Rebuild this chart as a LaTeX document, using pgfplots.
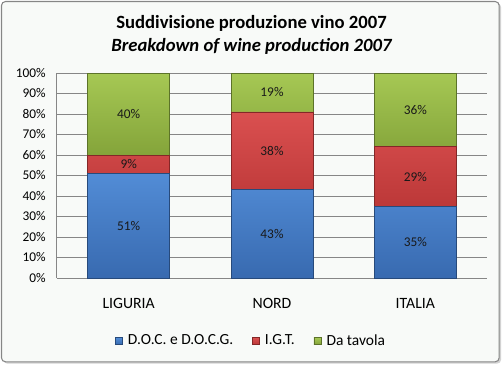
\documentclass[border=0pt]{standalone}
\usepackage{pgfplots}
\pgfplotsset{compat=1.18}
\usepackage{pgfplotstable}
\usepackage{fontspec}
\setmainfont{Carlito}
\definecolor{bluet}{RGB}{82,140,214}
\definecolor{blueb}{RGB}{56,106,176}
\definecolor{redt}{RGB}{218,80,80}
\definecolor{redb}{RGB}{188,56,56}
\definecolor{greent}{RGB}{166,200,84}
\definecolor{greenb}{RGB}{132,164,58}
\definecolor{cgrid}{HTML}{868686}
\definecolor{cbg}{HTML}{F8FAF8}
\pgfplotstableread{
x doc igt tav
0 51 9 40
1 43 38 19
2 35 29 36
}\data
\pgfplotstablecreatecol[expr={\thisrow{doc}/2}]{mdoc}\data
\pgfplotstablecreatecol[expr={\thisrow{doc}+\thisrow{igt}/2}]{migt}\data
\pgfplotstablecreatecol[expr={\thisrow{doc}+\thisrow{igt}+\thisrow{tav}/2}]{mtav}\data
\pgfplotsset{myaxis/.style={
  scale only axis, width=322.5pt, height=153.75pt,
  at={(42.75pt,65.25pt)}, anchor=south west,
  xmin=-0.5, xmax=2.5, ymin=0, ymax=100,
  /pgf/number format/assume math mode=true,
}}
\begin{document}
\begin{tikzpicture}
\path[use as bounding box] (0,0) rectangle (377.25pt,273.75pt);
\fill[gray!35, rounded corners=3pt] (2.5pt,1pt) rectangle (375.8pt,271.4pt);
\draw[cgrid, fill=cbg, line width=0.8pt, rounded corners=3pt] (1.1pt,2.4pt) rectangle (374.4pt,272.6pt);
\node[anchor=base, font=\fontsize{14}{16}\selectfont\bfseries, inner sep=0pt] at (188.6pt,252pt) {Suddivisione produzione vino 2007};
\node[anchor=base, font=\fontsize{14}{16}\selectfont\bfseries\itshape, inner sep=0pt] at (188.6pt,234.75pt) {Breakdown of wine production 2007};
\begin{axis}[myaxis,
  ybar stacked, bar width=61.5pt,
  axis lines*=left,
  axis line style={cgrid, line width=0.75pt},
  ymajorgrids, grid style={cgrid, line width=0.75pt},
  major tick length=0pt,
  xtick={0,1,2}, xticklabels={LIGURIA,NORD,ITALIA},
  ytick={0,10,...,100},
  yticklabel={\pgfmathprintnumber{\tick}\%},
  ticklabel style={text=black},
  yticklabel style={font=\fontsize{10}{12}\selectfont, anchor=east, inner sep=0pt, xshift=-8.25pt},
  xticklabel style={font=\fontsize{11.8}{13}\selectfont, anchor=base, yshift=-22.7pt},
  legend style={at={(0.452,-0.307)}, anchor=center, draw=none, fill=none,
    legend columns=3, font=\fontsize{11.6}{13}\selectfont,
    /tikz/every even column/.append style={column sep=12pt},
    /tikz/every odd column/.append style={column sep=2pt}},
  legend image code/.code={\draw[#1, line width=0.4pt] (0pt,-2.6pt) rectangle (5.3pt,2.6pt);},
]
\addplot[top color=bluet, bottom color=blueb, draw=blueb!70!black, line width=0.6pt] table[x=x,y=doc]{\data};
\addplot[top color=redt, bottom color=redb, draw=redb!70!black, line width=0.6pt] table[x=x,y=igt]{\data};
\addplot[top color=greent, bottom color=greenb, draw=greenb!70!black, line width=0.6pt] table[x=x,y=tav]{\data};
\legend{D.O.C. e D.O.C.G., I.G.T., Da tavola}
\end{axis}
\begin{axis}[myaxis, hide axis]
\pgfplotsinvokeforeach{doc,igt,tav}{
\addplot[draw=none, mark=none, nodes near coords={\pgfmathprintnumber{\pgfplotspointmeta}\%},
  point meta=explicit,
  nodes near coords style={anchor=center, font=\fontsize{10}{12}\selectfont, text=black!90}]
  table[x=x, y=m#1, meta=#1]{\data};
}
\end{axis}
\end{tikzpicture}
\end{document}
